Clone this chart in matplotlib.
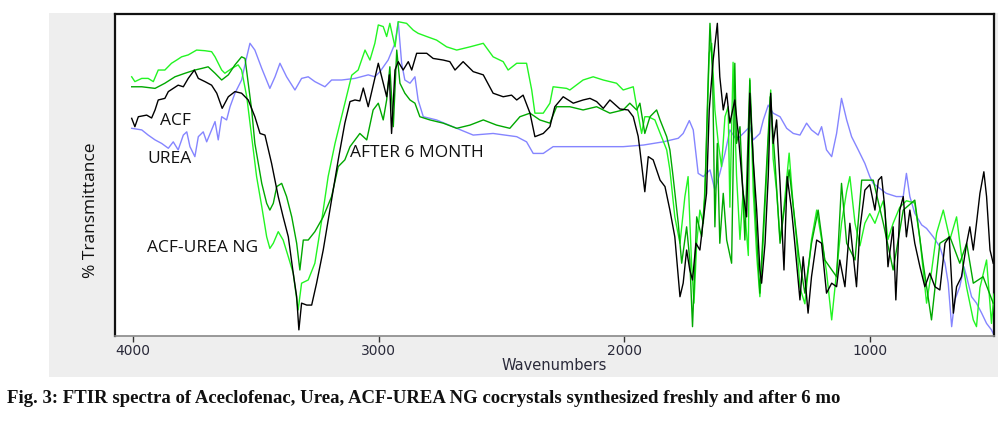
import matplotlib
matplotlib.use("Agg")
import matplotlib.pyplot as plt
from matplotlib.patches import Rectangle

# ---------------- data (wavenumber cm-1, % transmittance, arbitrary 0-100) -------------
acf_wn = [4004, 3991, 3977, 3943, 3923, 3909, 3896, 3869, 3855, 3835, 3815, 3794, 3774, 3749, 3733,
          3706, 3679, 3658, 3636, 3611, 3584, 3557, 3530, 3503, 3482, 3462, 3435, 3408, 3388, 3367,
          3347, 3333, 3324, 3313, 3292, 3272, 3252, 3225, 3191, 3164, 3137, 3116, 3096, 3076, 3062,
          3042, 3015, 3001, 2981, 2967, 2956, 2947, 2933, 2920, 2900, 2879, 2865, 2845, 2804, 2778,
          2737, 2710, 2689, 2656, 2615, 2574, 2534, 2493, 2459, 2438, 2412, 2384, 2364, 2330, 2303,
          2283, 2249, 2208, 2168, 2140, 2113, 2086, 2059, 2018, 1985, 1964, 1944, 1937, 1917, 1903,
          1883, 1855, 1835, 1815, 1795, 1774, 1761, 1747, 1734, 1723, 1709, 1693, 1679, 1666, 1655,
          1639, 1622, 1612, 1598, 1584, 1571, 1551, 1537, 1517, 1503, 1490, 1476, 1462, 1449, 1442,
          1428, 1415, 1405, 1395, 1381, 1367, 1351, 1338, 1320, 1307, 1286, 1273, 1253, 1239, 1218,
          1198, 1178, 1157, 1137, 1124, 1103, 1083, 1056, 1042, 1022, 1002, 981, 967, 954, 940, 928,
          907, 896, 880, 866, 853, 839, 819, 798, 778, 758, 737, 717, 696, 679, 662, 649, 629, 608,
          595, 581, 568, 554, 538, 527, 513, 500]
acf_t = [67.6, 65.0, 68.1, 68.6, 67.7, 70.2, 73.3, 73.8, 75.9, 76.9, 77.9, 77.4, 80.0, 82.6, 80.0,
         79.0, 77.9, 75.4, 70.7, 74.3, 75.9, 75.4, 73.3, 68.1, 62.9, 62.4, 53.6, 43.3, 37.0, 30.8,
         19.5, 12.2, 1.9, 10.2, 9.6, 9.6, 16.4, 26.7, 42.2, 54.7, 66.1, 72.8, 73.3, 73.0, 77.0,
         71.2, 80.0, 84.7, 78.5, 74.3, 81.1, 62.9, 82.6, 85.2, 82.6, 85.2, 82.6, 87.8, 87.8, 86.2,
         85.7, 85.2, 82.6, 85.2, 82.1, 81.1, 75.4, 74.3, 74.8, 73.3, 74.8, 69.2, 61.9, 62.9, 65.0,
         71.2, 74.3, 72.3, 73.3, 73.8, 72.8, 70.7, 73.3, 70.5, 70.2, 68.1, 62.0, 57.8, 44.8, 55.7,
         54.7, 48.4, 46.4, 39.1, 30.8, 12.2, 16.4, 26.7, 20.5, 17.4, 28.8, 26.7, 36.0, 44.3, 70.2,
         85.7, 97.1, 80.5, 70.2, 75.4, 66.1, 73.3, 62.9, 44.3, 37.0, 75.4, 54.7, 39.1, 20.5, 16.4,
         28.8, 49.5, 75.4, 59.8, 67.1, 47.4, 20.5, 49.5, 39.1, 28.8, 11.2, 24.6, 7.1, 18.4, 29.8,
         28.8, 13.3, 16.4, 15.3, 23.6, 15.3, 35.0, 15.3, 33.4, 45.3, 47.0, 39.1, 48.4, 49.5, 39.1, 21.5,
         33.9, 11.2, 39.1, 43.3, 30.8, 39.1, 28.8, 21.5, 15.3, 19.5, 15.3, 14.3, 28.8, 30.8, 7.1, 15.3, 18.4, 28.8,
         33.9, 26.7, 35.0, 44.3, 51.0, 43.3, 26.7, 22.6]

urea_wn = [4004, 3963, 3937, 3909, 3882, 3855, 3835, 3815, 3794, 3780, 3767, 3747, 3733, 3713, 3699,
           3679, 3665, 3652, 3638, 3618, 3604, 3584, 3557, 3536, 3523, 3503, 3475, 3442, 3421, 3401,
           3374, 3340, 3313, 3286, 3259, 3218, 3191, 3150, 3096, 3042, 3015, 2994, 2961, 2933, 2920,
           2906, 2893, 2872, 2852, 2839, 2818, 2764, 2682, 2615, 2534, 2438, 2398, 2371, 2330, 2290,
           2222, 2113, 2005, 1923, 1842, 1781, 1761, 1736, 1720, 1700, 1679, 1652, 1632, 1612, 1591,
           1571, 1544, 1517, 1490, 1476, 1449, 1435, 1415, 1395, 1367, 1340, 1313, 1286, 1259, 1239,
           1212, 1198, 1178, 1157, 1137, 1117, 1096, 1076, 1049, 1022, 1002, 988, 935, 894, 866, 853,
           839, 819, 791, 771, 744, 717, 696, 683, 669, 656, 636, 619, 608, 588, 568, 547, 527, 507, 497]
urea_t = [64.5, 64.0, 62.4, 60.9, 59.8, 58.3, 60.3, 57.8, 62.4, 63.4, 58.8, 55.7, 61.9, 63.4, 60.3,
          64.0, 66.6, 60.9, 68.1, 67.1, 71.2, 75.4, 79.5, 86.7, 90.9, 88.8, 83.1, 76.9, 80.5, 84.7,
          80.5, 76.4, 80.0, 80.5, 79.0, 77.4, 79.5, 79.5, 80.0, 81.1, 80.5, 82.1, 85.7, 90.9, 97.6,
          84.7, 79.5, 78.5, 80.5, 73.3, 68.1, 67.1, 64.5, 62.4, 62.9, 61.9, 60.3, 56.7, 56.7, 58.8,
          58.8, 58.8, 58.8, 59.3, 60.3, 61.4, 62.9, 66.9, 64.0, 50.5, 49.5, 51.6, 45.3, 50.5, 56.7,
          64.0, 60.9, 62.9, 65.0, 60.9, 62.9, 67.1, 71.7, 69.2, 68.1, 64.5, 62.9, 62.4, 66.1, 64.0,
          62.4, 65.0, 57.8, 55.7, 62.9, 73.8, 67.1, 61.9, 57.8, 53.6, 49.5, 47.4, 44.3, 43.3, 43.3, 50.5,
          43.3, 38.1, 34.5, 33.4, 30.8, 27.7, 22.6, 16.4, 2.9, 11.2, 15.3, 21.5, 18.4, 12.2, 10.2, 7.1, 3.9, 1.9, 0.3]

ng_wn = [4004, 3991, 3963, 3937, 3916, 3896, 3869, 3842, 3821, 3801, 3774, 3740, 3706, 3679, 3665,
         3638, 3625, 3597, 3571, 3557, 3536, 3516, 3496, 3475, 3455, 3442, 3428, 3408, 3388, 3367,
         3347, 3327, 3313, 3286, 3259, 3231, 3205, 3177, 3137, 3109, 3083, 3055, 3035, 3015, 3001,
         2981, 2967, 2954, 2933, 2920, 2886, 2859, 2839, 2804, 2764, 2723, 2682, 2628, 2574, 2534,
         2493, 2473, 2438, 2398, 2377, 2364, 2330, 2303, 2290, 2235, 2222, 2168, 2127, 2086, 2032,
         2005, 1964, 1950, 1930, 1917, 1903, 1876, 1849, 1828, 1815, 1795, 1774, 1754, 1741, 1727,
         1717, 1706, 1693, 1679, 1669, 1655, 1645, 1632, 1618, 1605, 1591, 1578, 1571, 1558, 1544,
         1530, 1517, 1496, 1490, 1476, 1462, 1449, 1435, 1415, 1405, 1395, 1381, 1367, 1351, 1330,
         1313, 1300, 1286, 1266, 1253, 1239, 1218, 1198, 1178, 1157, 1137, 1117, 1096, 1083, 1062,
         1042, 1022, 1002, 981, 967, 947, 928, 907, 880, 853, 819, 798, 771, 751, 730, 703, 676,
         649, 629, 608, 581, 568, 554, 527, 507, 497]
ng_t = [80.5, 79.0, 80.0, 80.0, 79.0, 82.6, 82.6, 84.7, 85.7, 86.7, 87.3, 88.8, 88.6, 88.3, 86.7,
        82.6, 81.6, 83.1, 84.2, 82.6, 74.3, 61.9, 49.5, 40.2, 30.8, 27.2, 28.8, 32.4, 29.8, 24.6,
        19.5, 8.1, 16.4, 17.4, 22.6, 36.0, 49.5, 59.8, 72.3, 81.0, 82.6, 88.8, 85.7, 90.9, 96.6,
        96.1, 93.0, 97.1, 89.8, 97.6, 97.1, 95.0, 94.0, 93.0, 91.9, 89.8, 88.8, 89.8, 90.9, 86.7,
        85.2, 82.6, 84.7, 84.7, 76.4, 69.2, 69.2, 72.3, 77.4, 76.9, 76.4, 79.5, 80.5, 79.5, 78.5,
        76.4, 77.4, 71.2, 62.9, 68.1, 68.1, 67.1, 61.9, 57.8, 51.6, 37.0, 28.8, 43.3, 49.5, 22.6,
        10.2, 28.8, 39.1, 35.0, 52.6, 87.8, 90.9, 70.2, 59.8, 52.6, 68.1, 71.2, 40.0, 85.0, 50.0,
        30.0, 45.0, 25.0, 80.0, 45.0, 25.0, 12.2, 30.0, 60.0, 76.4, 55.0, 45.0, 30.0, 40.0, 56.8,
        40.0, 30.0, 15.0, 10.0, 20.0, 30.0, 39.1, 30.0, 20.0, 5.0, 20.0, 35.0, 45.0, 49.5, 35.0,
        28.0, 35.0, 38.0, 35.0, 38.0, 42.0, 30.0, 35.0, 40.0, 42.0, 41.3, 30.0, 10.2, 20.0, 32.0, 39.1, 30.0,
        37.0, 25.0, 15.0, 5.0, 2.9, 15.0, 23.6, 3.9, 13.0]

m6_wn = [4004, 3963, 3909, 3869, 3828, 3787, 3747, 3719, 3693, 3665, 3638, 3611, 3584, 3557, 3543,
         3530, 3516, 3503, 3475, 3455, 3442, 3428, 3414, 3394, 3374, 3353, 3333, 3320, 3306, 3286,
         3259, 3225, 3191, 3164, 3137, 3116, 3076, 3048, 3022, 3001, 2981, 2967, 2954, 2940, 2926,
         2913, 2893, 2872, 2852, 2832, 2791, 2737, 2682, 2628, 2574, 2520, 2466, 2425, 2384, 2344,
         2303, 2276, 2222, 2168, 2113, 2059, 2005, 1978, 1950, 1937, 1917, 1896, 1869, 1855, 1828,
         1815, 1802, 1781, 1767, 1747, 1734, 1723, 1706, 1686, 1673, 1659, 1652, 1641, 1632, 1622,
         1612, 1598, 1584, 1564, 1551, 1544, 1530, 1510, 1490, 1469, 1449, 1407, 1388, 1367, 1330,
         1290, 1266, 1239, 1212, 1185, 1137, 1117, 1096, 1062, 1035, 1008, 988, 947, 907, 866, 819,
         785, 751, 717, 676, 636, 608, 581, 541, 500]
m6_t = [77.4, 77.4, 76.9, 78.5, 80.5, 81.6, 82.6, 83.1, 83.6, 81.6, 79.5, 81.1, 84.2, 86.7, 86.2,
        78.5, 70.2, 59.8, 47.4, 41.2, 39.1, 41.2, 46.4, 47.4, 43.3, 37.0, 28.8, 20.5, 29.8, 29.8,
        32.4, 37.0, 43.3, 52.6, 54.7, 58.8, 62.9, 60.9, 70.2, 72.3, 67.1, 73.3, 83.6, 65.0, 88.8,
        78.5, 75.4, 73.3, 72.3, 68.1, 67.1, 66.1, 64.5, 65.5, 67.1, 65.5, 64.5, 68.1, 69.2, 67.1,
        66.1, 71.2, 71.2, 70.2, 71.2, 69.2, 70.2, 72.3, 70.2, 72.3, 62.9, 68.1, 70.2, 67.1, 61.9,
        57.8, 49.5, 35.0, 22.6, 33.9, 23.6, 2.9, 37.0, 30.8, 43.3, 80.5, 97.1, 80.5, 33.9, 59.8,
        28.8, 44.3, 29.8, 22.6, 84.7, 59.8, 65.0, 29.8, 79.5, 41.2, 13.3, 74.3, 54.7, 28.8, 51.6,
        24.6, 13.3, 28.8, 39.1, 23.6, 18.4, 47.4, 28.8, 23.6, 48.4, 48.4, 48.4, 35.0, 20.5, 39.1, 42.2,
        22.6, 5.0, 28.8, 30.8, 22.6, 28.8, 16.4, 18.4, 10.2]

x_ticks = [4000, 3000, 2000, 1000]
x_label = "Wavenumbers"
y_label = "% Transmittance"
caption = ("Fig. 3: FTIR spectra of Aceclofenac, Urea, ACF-UREA NG cocrystals "
           "synthesized freshly and after 6 mo")

# ---------------- figure -------------
fig = plt.figure(figsize=(10.05, 4.23), dpi=100)
fig.patch.set_facecolor("white")
fig.patches.append(Rectangle((0.0488, 0.1087), 0.9442, 0.8606, transform=fig.transFigure,
                             facecolor="#eeeeee", edgecolor="none", zorder=-5))

ax = fig.add_axes([0.1144, 0.2057, 0.8746, 0.7612])
ax.set_zorder(2)
ax.set_facecolor("white")

lw = 1.0
ax.plot(urea_wn, urea_t, color="#8585ff", lw=lw, zorder=2)
ax.plot(ng_wn, ng_t, color="#22f522", lw=lw, zorder=3)
ax.plot(m6_wn, m6_t, color="#00a800", lw=lw, zorder=4)
ax.plot(acf_wn, acf_t, color="#000000", lw=lw, zorder=5)

ax.set_xlim(4072, 497)
ax.set_ylim(0, 100)
ax.set_xticks(x_ticks)
ax.set_xticklabels([str(v) for v in x_ticks], fontsize=10, color="#2a2a3a", family="DejaVu Sans")
ax.set_yticks([])
ax.tick_params(axis="x", direction="out", length=4, width=1, color="#333333", pad=2)
for side in ["left", "top", "right"]:
    ax.spines[side].set_color("#111111")
    ax.spines[side].set_linewidth(1.6)
ax.spines["bottom"].set_color("#888888")
ax.spines["bottom"].set_linewidth(1.2)

ax.set_xlabel(x_label, fontsize=10.5, color="#2a2a3a", family="DejaVu Sans", labelpad=0)
fig.text(0.0905, 0.503, y_label, rotation=90, fontsize=12.5, family="Open Sans",
         color="#111111", ha="center", va="center", zorder=3)

lab = dict(fontsize=12.5, family="Open Sans", color="#111111", va="baseline", zorder=10)
ax.text(3887, 65.5, "ACF", **lab)
ax.text(3942, 53.7, "UREA", **lab)
ax.text(3117, 55.6, "AFTER 6 MONTH", **lab)
ax.text(3942, 26.1, "ACF-UREA NG", **lab)

fig.text(0.007, 0.048, caption, fontsize=13.5, family="Liberation Serif", weight="bold",
         color="#111111", ha="left", va="baseline")

fig.savefig("out.png", dpi=100)
